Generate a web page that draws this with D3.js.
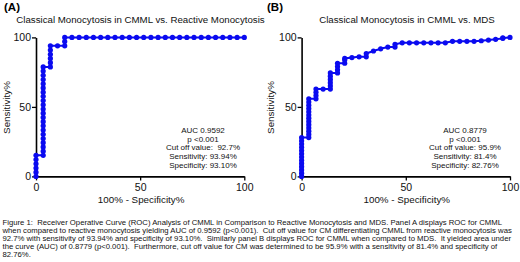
<!DOCTYPE html>
<html>
<head>
<meta charset="utf-8">
<script src="https://cdn.jsdelivr.net/npm/d3@7"></script>
<style>
  html, body { margin: 0; padding: 0; background: #fff; }
  svg { display: block; font-family: "Liberation Sans", Arial, Helvetica, sans-serif; }
  .pre { white-space: pre; }
</style>
</head>
<body>
<div id="chart"></div>
<script>
// ROC points as [100% - specificity%, sensitivity%]
const rocA = [
  [0, 0], [0, 3.03], [0, 6.06], [0, 9.09], [0, 12.12], [0, 15.15],
  [3.45, 15.15], [3.45, 18.18], [3.45, 21.21], [3.45, 24.24], [3.45, 27.27], [3.45, 30.30],
  [3.45, 33.33], [3.45, 36.36], [3.45, 39.39], [3.45, 42.42], [3.45, 45.45], [3.45, 48.48],
  [3.45, 51.52], [3.45, 54.55], [3.45, 57.58], [3.45, 60.61], [3.45, 63.64], [3.45, 66.67],
  [3.45, 69.70], [3.45, 72.73], [3.45, 75.76], [3.45, 78.79],
  [6.90, 78.79], [6.90, 81.82], [6.90, 84.85], [6.90, 87.88], [6.90, 90.91], [6.90, 93.94],
  [10.34, 93.94],
  [13.79, 93.94], [13.79, 96.97], [13.79, 100],
  [17.24, 100], [20.69, 100], [24.14, 100], [27.59, 100], [31.03, 100], [34.48, 100],
  [37.93, 100], [41.38, 100], [44.83, 100], [48.28, 100], [51.72, 100], [55.17, 100],
  [58.62, 100], [62.07, 100], [65.52, 100], [68.97, 100], [72.41, 100], [75.86, 100],
  [79.31, 100], [82.76, 100], [86.21, 100], [89.66, 100], [93.10, 100], [96.55, 100], [100, 100]
];

const rocB = [
  [0, 0], [0, 2.33], [0, 4.65], [0, 6.98], [0, 9.30], [0, 11.63], [0, 13.95],
  [0, 16.28], [0, 18.60], [0, 20.93], [0, 23.26], [0, 25.58], [0, 27.91],
  [3.45, 27.91], [3.45, 30.23], [3.45, 32.56], [3.45, 34.88], [3.45, 37.21], [3.45, 39.53],
  [3.45, 41.86], [3.45, 44.19], [3.45, 46.51], [3.45, 48.84], [3.45, 51.16], [3.45, 53.49], [3.45, 55.81],
  [6.90, 55.81], [6.90, 58.14], [6.90, 60.47], [6.90, 62.79],
  [10.34, 62.79],
  [13.79, 62.79], [13.79, 65.12], [13.79, 67.44], [13.79, 69.77], [13.79, 72.09], [13.79, 74.42],
  [17.24, 74.42], [17.24, 76.74], [17.24, 79.07], [17.24, 81.40],
  [20.69, 81.40], [20.69, 83.72], [20.69, 84.88],
  [24.14, 85.5], [27.59, 86.05],
  [31.03, 86.05], [31.03, 88.37],
  [34.48, 90.2], [37.93, 91.8], [41.38, 93.02],
  [44.83, 93.02], [44.83, 95.0],
  [48.28, 96.1], [51.72, 96.1], [55.17, 96.1], [58.62, 96.1], [62.07, 96.1], [65.52, 96.1], [68.97, 96.1],
  [72.41, 97.2], [75.86, 97.2], [79.31, 97.2], [82.76, 97.2],
  [86.21, 97.6], [89.66, 98.1], [93.10, 98.6],
  [96.55, 99.3], [96.55, 99.6], [100, 100]
];

const tickValues = [0, 50, 100];
const titles = ['Classical Monocytosis in CMML vs. Reactive Monocytosis', 'Classical Monocytosis in CMML vs. MDS'];
const panelLabels = ['(A)', '(B)'];
const statsA = ['AUC 0.9592', 'p <0.001', 'Cut off value:  92.7%', 'Sensitivity: 93.94%', 'Specificity: 93.10%'];
const statsB = ['AUC 0.8779', 'p <0.001', 'Cut off value: 95.9%', 'Sensitivity: 81.4%', 'Specificity: 82.76%'];
const captionLines = [
  'Figure 1:  Receiver Operative Curve (ROC) Analysis of CMML in Comparison to Reactive Monocytosis and MDS. Panel A displays ROC for CMML',
  'when compared to reactive monocytosis yielding AUC of 0.9592 (p<0.001).  Cut off value for CM differentiating CMML from reactive monocytosis was',
  '92.7% with sensitivity of 93.94% and specificity of 93.10%.  Similarly panel B displays ROC for CMML when compared to MDS.  It yielded area under',
  'the curve (AUC) of 0.8779 (p<0.001).  Furthermore, cut off value for CM was determined to be 95.9% with a sensitivity of 81.4% and specificity of',
  '82.76%.'
];

const W = 520, H = 262;
const blue = '#0a0af0';

const svg = d3.select('#chart').append('svg').attr('width', W).attr('height', H);
svg.append('rect').attr('width', W).attr('height', H).attr('fill', '#fff');

const panels = [
  { data: rocA, stats: statsA, x0: 36, x1: 244.3, lab: 4, ylab: 9.6, statX: 203, titleX: 140.5 },
  { data: rocB, stats: statsB, x0: 301.6, x1: 510, lab: 267, ylab: 274.3, statX: 465, titleX: 407 }
];

const y = d3.scaleLinear().domain([0, 100]).range([176.4, 37.4]);

panels.forEach((p, i) => {
  const x = d3.scaleLinear().domain([0, 100]).range([p.x0, p.x1]);
  const g = svg.append('g');

  // panel letter + title
  g.append('text').attr('x', p.lab).attr('y', 10.5).attr('font-size', 11.5).attr('font-weight', 'bold').attr('fill', '#000').text(panelLabels[i]);
  g.append('text').attr('x', p.titleX).attr('y', 22.5).attr('text-anchor', 'middle').attr('font-size', 9.7).attr('fill', '#111').text(titles[i]);

  // axes
  const ax = g.append('g').attr('transform', `translate(0,${y(0)})`)
    .call(d3.axisBottom(x).tickValues(tickValues).tickSize(4).tickSizeOuter(0).tickPadding(3));
  const ay = g.append('g').attr('transform', `translate(${x(0)},0)`)
    .call(d3.axisLeft(y).tickValues(tickValues).tickSize(4).tickSizeOuter(0).tickPadding(1));
  [ax, ay].forEach(a => {
    a.select('.domain').attr('stroke', '#000').attr('stroke-width', 1.6);
    a.selectAll('.tick line').attr('stroke', '#000').attr('stroke-width', 1.3);
    a.selectAll('.tick text').attr('font-size', 10.5).attr('fill', '#111').attr('font-family', null);
  });

  // axis titles
  g.append('text').attr('x', (p.x0 + p.x1) / 2 + 1).attr('y', 202.5).attr('text-anchor', 'middle').attr('font-size', 9.8).attr('fill', '#111').text('100% - Specificity%');
  g.append('text').attr('transform', `translate(${p.ylab},${107.5}) rotate(-90)`).attr('text-anchor', 'middle').attr('font-size', 9.8).attr('fill', '#111').text('Sensitivity%');

  // ROC curve
  const line = d3.line().x(d => x(d[0])).y(d => y(d[1]));
  g.append('path').datum(p.data).attr('d', line).attr('fill', 'none').attr('stroke', blue).attr('stroke-width', 2);
  g.selectAll('circle').data(p.data).enter().append('circle')
    .attr('cx', d => x(d[0])).attr('cy', d => y(d[1])).attr('r', 2.6).attr('fill', blue);

  // stats box
  g.append('g').selectAll('text').data(p.stats).enter().append('text').attr('class', 'pre')
    .attr('x', p.statX).attr('y', (d, j) => 133 + j * 8.7).attr('text-anchor', 'middle')
    .attr('font-size', 8).attr('fill', '#111').text(d => d);
});

// caption
svg.append('g').selectAll('text').data(captionLines).enter().append('text').attr('class', 'pre')
  .attr('x', 2.5).attr('y', (d, j) => 225.3 + j * 7.8).attr('font-size', 7.72).attr('fill', '#111').text(d => d);
</script>
</body>
</html>
